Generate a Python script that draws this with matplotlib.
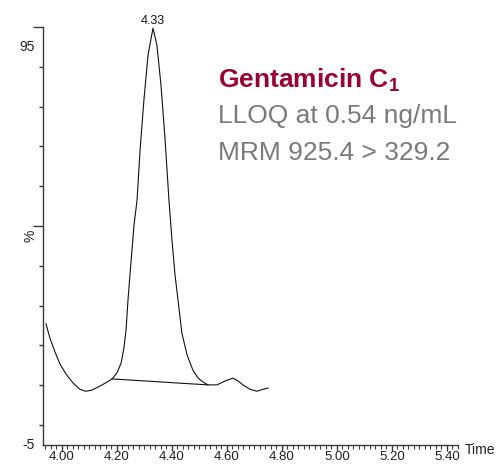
import matplotlib
matplotlib.use("Agg")
import matplotlib.pyplot as plt
from matplotlib.ticker import MultipleLocator, FixedLocator, NullFormatter

plt.rcParams['font.family'] = ['Liberation Sans', 'DejaVu Sans']
plt.rcParams['mathtext.fontset'] = 'custom'
plt.rcParams['mathtext.rm'] = 'Liberation Sans'
plt.rcParams['mathtext.bf'] = 'Liberation Sans:bold'

# Chromatogram trace (retention time in min, relative intensity %)
time = [3.942, 3.956, 3.975, 3.993, 4.015, 4.040, 4.065, 4.087, 4.109, 4.138,
        4.164, 4.182, 4.200, 4.215, 4.225, 4.233, 4.240, 4.251, 4.262, 4.273,
        4.284, 4.298, 4.313, 4.331, 4.345, 4.360, 4.375, 4.389, 4.400, 4.411,
        4.422, 4.436, 4.455, 4.476, 4.495, 4.513, 4.531, 4.564, 4.593, 4.622,
        4.640, 4.658, 4.684, 4.709, 4.731, 4.749]
intensity = [25.4, 21.9, 18.3, 15.3, 12.8, 10.6, 9.0, 8.5, 8.8, 9.8,
             10.8, 11.6, 13.1, 15.6, 19.3, 23.9, 31.4, 41.0, 50.3, 56.5,
             69.1, 81.7, 93.0, 99.7, 95.5, 85.4, 71.6, 56.5, 46.5, 37.7,
             31.4, 23.1, 17.6, 13.8, 11.8, 10.8, 10.1, 10.1, 11.1, 11.8,
             11.1, 10.1, 9.0, 8.5, 9.0, 9.3]

# Integration baseline
baseline_time = [4.182, 4.531]
baseline_int = [11.6, 10.1]

peak_time = 4.331
peak_int = 99.7
peak_label = "4.33"

x_ticks = [4.00, 4.20, 4.40, 4.60, 4.80, 5.00, 5.20, 5.40]
x_tick_labels = ["4.00", "4.20", "4.40", "4.60", "4.80", "5.00", "5.20", "5.40"]
y_labels = [95, -5]

title_main = r"Gentamicin C$_{\mathbf{1}}$"
line2 = "LLOQ at 0.54 ng/mL"
line3 = "MRM 925.4 > 329.2"

W, H = 501, 466
fig = plt.figure(figsize=(W / 100, H / 100), dpi=100)
ax = fig.add_axes([43 / W, (H - 445) / H, (458 - 43) / W, (445 - 27) / H])

axcol = '#3a3a3a'
ax.plot(time, intensity, color='#111111', lw=0.8)
ax.plot(baseline_time, baseline_int, color='#111111', lw=0.8)

ax.set_xlim(3.931, 5.44)
ax.set_ylim(-5, 100)

for s in ['top', 'right']:
    ax.spines[s].set_visible(False)
for s in ['left', 'bottom']:
    ax.spines[s].set_color(axcol)
    ax.spines[s].set_linewidth(1.0)

ax.xaxis.set_major_locator(FixedLocator(x_ticks))
ax.set_xticklabels(x_tick_labels)
ax.xaxis.set_minor_locator(MultipleLocator(0.02))
ax.tick_params(axis='x', which='major', length=4, width=1, color=axcol,
               labelsize=9.5, pad=0.5, labelcolor='#222222')
ax.tick_params(axis='x', which='minor', length=3, width=0.8, color=axcol)

ax.yaxis.set_major_locator(FixedLocator([50, 100]))
ax.yaxis.set_minor_locator(MultipleLocator(10))
ax.yaxis.set_major_formatter(NullFormatter())
ax.tick_params(axis='y', which='major', length=7, width=1, color=axcol)
ax.tick_params(axis='y', which='minor', length=3, width=1, color=axcol)

for v in y_labels:
    ax.annotate(str(v), xy=(0, v), xycoords=('axes fraction', 'data'),
                xytext=(-6, 0), textcoords='offset points',
                ha='right', va='center', fontsize=10, color='#222222')

ax.annotate('%', xy=(0, 47.5), xycoords=('axes fraction', 'data'),
            xytext=(-9, 0), textcoords='offset points', rotation=90,
            ha='center', va='center', fontsize=10, color='#222222')

ax.annotate(peak_label, xy=(peak_time, peak_int), xytext=(0, 1),
            textcoords='offset points', ha='center', va='bottom',
            fontsize=9, color='#111111', annotation_clip=False)

fig.text(465 / W, 1 - 450 / H, 'Time', ha='left', va='center',
         fontsize=10, color='#222222')

fig.text(218 / W, 1 - 87 / H, title_main, ha='left', va='baseline',
         fontsize=19, fontweight='bold', color='#990033')
fig.text(218 / W, 1 - 123 / H, line2, ha='left', va='baseline',
         fontsize=19, color='#7a7a7a')
fig.text(218 / W, 1 - 160 / H, line3, ha='left', va='baseline',
         fontsize=19, color='#7a7a7a')

fig.savefig('out.png', dpi=100)
